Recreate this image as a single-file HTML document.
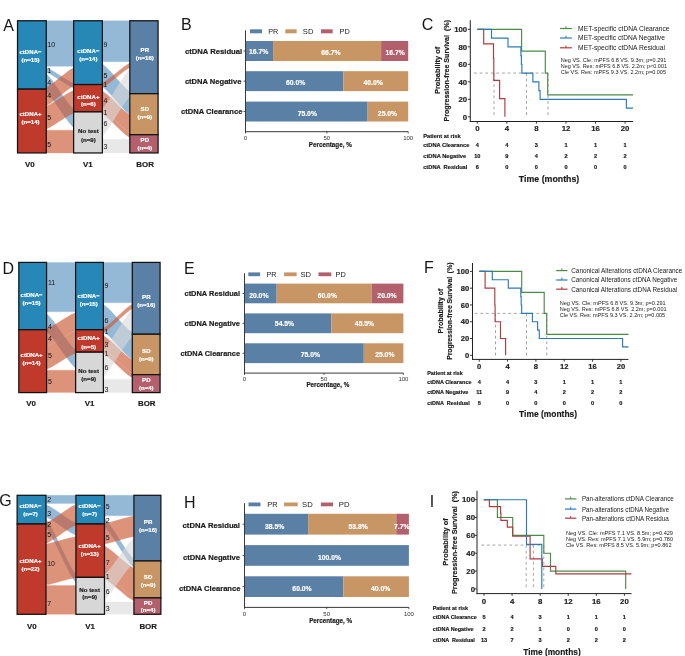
<!DOCTYPE html>
<html><head><meta charset="utf-8"><title>ctDNA figure</title>
<style>
html,body{margin:0;padding:0;background:#ffffff;}
body{width:685px;height:656px;overflow:hidden;}
svg{display:block;font-family:"Liberation Sans", sans-serif;will-change:transform;}
text{white-space:pre;}
</style></head>
<body>
<svg width="685" height="656" viewBox="0 0 685 656" font-family='"Liberation Sans", sans-serif' fill="#1a1a1a">
<rect x="0" y="0" width="685" height="656" fill="#ffffff"/>
<g opacity="0.65">
<path d="M41.25,20.75 C50.60,20.75 69.30,20.75 78.65,20.75 L78.65,66.34 C69.30,66.34 50.60,66.34 41.25,66.34 Z" fill="#5B94C2" stroke="#5B94C2" stroke-width="0.3"/>
<path d="M41.25,66.34 C50.60,66.34 69.30,84.57 78.65,84.57 L78.65,89.13 C69.30,89.13 50.60,70.89 41.25,70.89 Z" fill="#5B94C2" stroke="#5B94C2" stroke-width="0.3"/>
<path d="M41.25,70.89 C50.60,70.89 69.30,111.92 78.65,111.92 L78.65,130.16 C69.30,130.16 50.60,89.13 41.25,89.13 Z" fill="#5B94C2" stroke="#5B94C2" stroke-width="0.3"/>
</g>
<g opacity="0.66">
<path d="M41.25,89.13 C50.60,89.13 69.30,66.34 78.65,66.34 L78.65,84.57 C69.30,84.57 50.60,107.36 41.25,107.36 Z" fill="#CD5B37" stroke="#CD5B37" stroke-width="0.3"/>
<path d="M41.25,107.36 C50.60,107.36 69.30,89.13 78.65,89.13 L78.65,111.92 C69.30,111.92 50.60,130.16 41.25,130.16 Z" fill="#CD5B37" stroke="#CD5B37" stroke-width="0.3"/>
<path d="M41.25,130.16 C50.60,130.16 69.30,130.16 78.65,130.16 L78.65,152.95 C69.30,152.95 50.60,152.95 41.25,152.95 Z" fill="#CD5B37" stroke="#CD5B37" stroke-width="0.3"/>
</g>
<g opacity="0.65">
<path d="M97.33,20.75 C106.65,20.75 125.30,20.75 134.62,20.75 L134.62,61.78 C125.30,61.78 106.65,61.78 97.33,61.78 Z" fill="#5B94C2" stroke="#5B94C2" stroke-width="0.3"/>
<path d="M97.33,61.78 C106.65,61.78 125.30,93.69 134.62,93.69 L134.62,116.48 C125.30,116.48 106.65,84.57 97.33,84.57 Z" fill="#5B94C2" stroke="#5B94C2" stroke-width="0.3"/>
</g>
<g opacity="0.66">
<path d="M97.33,84.57 C106.65,84.57 125.30,61.78 134.62,61.78 L134.62,66.34 C125.30,66.34 106.65,89.13 97.33,89.13 Z" fill="#CD5B37" stroke="#CD5B37" stroke-width="0.3"/>
<path d="M97.33,89.13 C106.65,89.13 125.30,116.48 134.62,116.48 L134.62,134.72 C125.30,134.72 106.65,107.36 97.33,107.36 Z" fill="#CD5B37" stroke="#CD5B37" stroke-width="0.3"/>
<path d="M97.33,107.36 C106.65,107.36 125.30,134.72 134.62,134.72 L134.62,139.27 C125.30,139.27 106.65,111.92 97.33,111.92 Z" fill="#CD5B37" stroke="#CD5B37" stroke-width="0.3"/>
</g>
<g opacity="0.6">
<path d="M97.33,111.92 C106.65,111.92 125.30,66.34 134.62,66.34 L134.62,93.69 C125.30,93.69 106.65,139.27 97.33,139.27 Z" fill="#DADADA" stroke="#DADADA" stroke-width="0.3"/>
<path d="M97.33,139.27 C106.65,139.27 125.30,139.27 134.62,139.27 L134.62,152.95 C125.30,152.95 106.65,152.95 97.33,152.95 Z" fill="#DADADA" stroke="#DADADA" stroke-width="0.3"/>
</g>
<rect x="17.52" y="20.75" width="28.75" height="68.38" fill="#2787B6" stroke="#121212" stroke-width="1.25"/>
<rect x="17.52" y="89.13" width="28.75" height="63.82" fill="#C03A2B" stroke="#121212" stroke-width="1.25"/>
<rect x="73.62" y="20.75" width="28.75" height="63.82" fill="#2787B6" stroke="#121212" stroke-width="1.25"/>
<rect x="73.62" y="84.57" width="28.75" height="27.35" fill="#C03A2B" stroke="#121212" stroke-width="1.25"/>
<rect x="73.62" y="111.92" width="28.75" height="41.03" fill="#D7D7D7" stroke="#121212" stroke-width="1.25"/>
<rect x="129.82" y="20.75" width="28.25" height="72.94" fill="#5B80A5" stroke="#121212" stroke-width="1.25"/>
<rect x="129.82" y="93.69" width="28.25" height="41.03" fill="#C89664" stroke="#121212" stroke-width="1.25"/>
<rect x="129.82" y="134.72" width="28.25" height="18.23" fill="#B4606C" stroke="#121212" stroke-width="1.25"/>
<text x="30.50" y="53.68" font-size="6.1" font-weight="bold" text-anchor="middle" fill="#ffffff" stroke="#ffffff" stroke-width="0.18" >ctDNA−</text>
<text x="30.50" y="62.08" font-size="6.1" font-weight="bold" text-anchor="middle" fill="#ffffff" stroke="#ffffff" stroke-width="0.18" >(n=15)</text>
<text x="30.50" y="115.78" font-size="6.1" font-weight="bold" text-anchor="middle" fill="#ffffff" stroke="#ffffff" stroke-width="0.18" >ctDNA+</text>
<text x="30.50" y="123.98" font-size="6.1" font-weight="bold" text-anchor="middle" fill="#ffffff" stroke="#ffffff" stroke-width="0.18" >(n=14)</text>
<text x="88.40" y="53.08" font-size="6.1" font-weight="bold" text-anchor="middle" fill="#ffffff" stroke="#ffffff" stroke-width="0.18" >ctDNA−</text>
<text x="88.40" y="60.88" font-size="6.1" font-weight="bold" text-anchor="middle" fill="#ffffff" stroke="#ffffff" stroke-width="0.18" >(n=14)</text>
<text x="88.40" y="98.68" font-size="6.1" font-weight="bold" text-anchor="middle" fill="#ffffff" stroke="#ffffff" stroke-width="0.18" >ctDNA+</text>
<text x="88.40" y="106.38" font-size="6.1" font-weight="bold" text-anchor="middle" fill="#ffffff" stroke="#ffffff" stroke-width="0.18" >(n=6)</text>
<text x="88.40" y="133.28" font-size="6.1" font-weight="bold" text-anchor="middle" stroke="#1a1a1a" stroke-width="0.18" >No test</text>
<text x="88.40" y="141.58" font-size="6.1" font-weight="bold" text-anchor="middle" stroke="#1a1a1a" stroke-width="0.18" >(n=9)</text>
<text x="144.80" y="51.68" font-size="6.1" font-weight="bold" text-anchor="middle" fill="#ffffff" stroke="#ffffff" stroke-width="0.18" >PR</text>
<text x="144.80" y="60.18" font-size="6.1" font-weight="bold" text-anchor="middle" fill="#ffffff" stroke="#ffffff" stroke-width="0.18" >(n=16)</text>
<text x="144.80" y="110.98" font-size="6.1" font-weight="bold" text-anchor="middle" fill="#ffffff" stroke="#ffffff" stroke-width="0.18" >SD</text>
<text x="144.80" y="118.68" font-size="6.1" font-weight="bold" text-anchor="middle" fill="#ffffff" stroke="#ffffff" stroke-width="0.18" >(n=9)</text>
<text x="144.80" y="141.88" font-size="6.1" font-weight="bold" text-anchor="middle" fill="#ffffff" stroke="#ffffff" stroke-width="0.18" >PD</text>
<text x="144.80" y="149.68" font-size="6.1" font-weight="bold" text-anchor="middle" fill="#ffffff" stroke="#ffffff" stroke-width="0.18" >(n=4)</text>
<text x="47.30" y="46.55" font-size="7.0" fill="#111" >10</text>
<text x="47.30" y="73.15" font-size="7.0" fill="#111" >1</text>
<text x="47.30" y="85.05" font-size="7.0" fill="#111" >4</text>
<text x="47.30" y="98.35" font-size="7.0" fill="#111" >4</text>
<text x="47.30" y="120.35" font-size="7.0" fill="#111" >5</text>
<text x="47.30" y="147.15" font-size="7.0" fill="#111" >5</text>
<text x="103.60" y="46.55" font-size="7.0" fill="#111" >9</text>
<text x="103.60" y="77.65" font-size="7.0" fill="#111" >5</text>
<text x="103.60" y="86.85" font-size="7.0" fill="#111" >1</text>
<text x="103.60" y="103.25" font-size="7.0" fill="#111" >4</text>
<text x="103.60" y="115.15" font-size="7.0" fill="#111" >1</text>
<text x="103.60" y="125.65" font-size="7.0" fill="#111" >6</text>
<text x="103.60" y="149.05" font-size="7.0" fill="#111" >3</text>
<text x="29.90" y="166.83" font-size="7.9" font-weight="bold" text-anchor="middle" stroke="#1a1a1a" stroke-width="0.18" >V0</text>
<text x="87.90" y="166.83" font-size="7.9" font-weight="bold" text-anchor="middle" stroke="#1a1a1a" stroke-width="0.18" >V1</text>
<text x="145.10" y="166.83" font-size="7.9" font-weight="bold" text-anchor="middle" stroke="#1a1a1a" stroke-width="0.18" >BOR</text>
<text x="3.37" y="31.40" font-size="16" fill="#161616" >A</text>
<g opacity="0.65">
<path d="M42.17,262.40 C51.63,262.40 70.57,262.40 80.03,262.40 L80.03,311.79 C70.57,311.79 51.63,311.79 42.17,311.79 Z" fill="#5B94C2" stroke="#5B94C2" stroke-width="0.3"/>
<path d="M42.17,311.79 C51.63,311.79 70.57,352.19 80.03,352.19 L80.03,370.15 C70.57,370.15 51.63,329.74 42.17,329.74 Z" fill="#5B94C2" stroke="#5B94C2" stroke-width="0.3"/>
</g>
<g opacity="0.66">
<path d="M42.17,329.74 C51.63,329.74 70.57,311.79 80.03,311.79 L80.03,329.74 C70.57,329.74 51.63,347.70 42.17,347.70 Z" fill="#CD5B37" stroke="#CD5B37" stroke-width="0.3"/>
<path d="M42.17,347.70 C51.63,347.70 70.57,329.74 80.03,329.74 L80.03,352.19 C70.57,352.19 51.63,370.15 42.17,370.15 Z" fill="#CD5B37" stroke="#CD5B37" stroke-width="0.3"/>
<path d="M42.17,370.15 C51.63,370.15 70.57,370.15 80.03,370.15 L80.03,392.60 C70.57,392.60 51.63,392.60 42.17,392.60 Z" fill="#CD5B37" stroke="#CD5B37" stroke-width="0.3"/>
</g>
<g opacity="0.65">
<path d="M98.95,262.40 C108.40,262.40 127.30,262.40 136.75,262.40 L136.75,302.81 C127.30,302.81 108.40,302.81 98.95,302.81 Z" fill="#5B94C2" stroke="#5B94C2" stroke-width="0.3"/>
<path d="M98.95,302.81 C108.40,302.81 127.30,334.23 136.75,334.23 L136.75,361.17 C127.30,361.17 108.40,329.74 98.95,329.74 Z" fill="#5B94C2" stroke="#5B94C2" stroke-width="0.3"/>
</g>
<g opacity="0.66">
<path d="M98.95,329.74 C108.40,329.74 127.30,302.81 136.75,302.81 L136.75,307.30 C127.30,307.30 108.40,334.23 98.95,334.23 Z" fill="#CD5B37" stroke="#CD5B37" stroke-width="0.3"/>
<path d="M98.95,334.23 C108.40,334.23 127.30,361.17 136.75,361.17 L136.75,374.64 C127.30,374.64 108.40,347.70 98.95,347.70 Z" fill="#CD5B37" stroke="#CD5B37" stroke-width="0.3"/>
<path d="M98.95,347.70 C108.40,347.70 127.30,374.64 136.75,374.64 L136.75,379.13 C127.30,379.13 108.40,352.19 98.95,352.19 Z" fill="#CD5B37" stroke="#CD5B37" stroke-width="0.3"/>
</g>
<g opacity="0.6">
<path d="M98.95,352.19 C108.40,352.19 127.30,307.30 136.75,307.30 L136.75,334.23 C127.30,334.23 108.40,379.13 98.95,379.13 Z" fill="#DADADA" stroke="#DADADA" stroke-width="0.3"/>
<path d="M98.95,379.13 C108.40,379.13 127.30,379.13 136.75,379.13 L136.75,392.60 C127.30,392.60 108.40,392.60 98.95,392.60 Z" fill="#DADADA" stroke="#DADADA" stroke-width="0.3"/>
</g>
<rect x="18.82" y="262.40" width="27.75" height="67.34" fill="#2787B6" stroke="#121212" stroke-width="1.25"/>
<rect x="18.82" y="329.74" width="27.75" height="62.86" fill="#C03A2B" stroke="#121212" stroke-width="1.25"/>
<rect x="75.62" y="262.40" width="27.75" height="67.34" fill="#2787B6" stroke="#121212" stroke-width="1.25"/>
<rect x="75.62" y="329.74" width="27.75" height="22.45" fill="#C03A2B" stroke="#121212" stroke-width="1.25"/>
<rect x="75.62" y="352.19" width="27.75" height="40.41" fill="#D7D7D7" stroke="#121212" stroke-width="1.25"/>
<rect x="132.32" y="262.40" width="27.75" height="71.83" fill="#5B80A5" stroke="#121212" stroke-width="1.25"/>
<rect x="132.32" y="334.23" width="27.75" height="40.41" fill="#C89664" stroke="#121212" stroke-width="1.25"/>
<rect x="132.32" y="374.64" width="27.75" height="17.96" fill="#B4606C" stroke="#121212" stroke-width="1.25"/>
<text x="31.60" y="296.88" font-size="6.1" font-weight="bold" text-anchor="middle" fill="#ffffff" stroke="#ffffff" stroke-width="0.18" >ctDNA−</text>
<text x="31.60" y="305.08" font-size="6.1" font-weight="bold" text-anchor="middle" fill="#ffffff" stroke="#ffffff" stroke-width="0.18" >(n=15)</text>
<text x="31.60" y="356.98" font-size="6.1" font-weight="bold" text-anchor="middle" fill="#ffffff" stroke="#ffffff" stroke-width="0.18" >ctDNA+</text>
<text x="31.60" y="364.88" font-size="6.1" font-weight="bold" text-anchor="middle" fill="#ffffff" stroke="#ffffff" stroke-width="0.18" >(n=14)</text>
<text x="88.70" y="297.78" font-size="6.1" font-weight="bold" text-anchor="middle" fill="#ffffff" stroke="#ffffff" stroke-width="0.18" >ctDNA−</text>
<text x="88.70" y="305.98" font-size="6.1" font-weight="bold" text-anchor="middle" fill="#ffffff" stroke="#ffffff" stroke-width="0.18" >(n=15)</text>
<text x="88.70" y="340.48" font-size="6.1" font-weight="bold" text-anchor="middle" fill="#ffffff" stroke="#ffffff" stroke-width="0.18" >ctDNA+</text>
<text x="88.70" y="348.68" font-size="6.1" font-weight="bold" text-anchor="middle" fill="#ffffff" stroke="#ffffff" stroke-width="0.18" >(n=5)</text>
<text x="88.70" y="373.08" font-size="6.1" font-weight="bold" text-anchor="middle" stroke="#1a1a1a" stroke-width="0.18" >No test</text>
<text x="88.70" y="381.28" font-size="6.1" font-weight="bold" text-anchor="middle" stroke="#1a1a1a" stroke-width="0.18" >(n=9)</text>
<text x="146.30" y="298.98" font-size="6.1" font-weight="bold" text-anchor="middle" fill="#ffffff" stroke="#ffffff" stroke-width="0.18" >PR</text>
<text x="146.30" y="306.98" font-size="6.1" font-weight="bold" text-anchor="middle" fill="#ffffff" stroke="#ffffff" stroke-width="0.18" >(n=16)</text>
<text x="146.30" y="352.68" font-size="6.1" font-weight="bold" text-anchor="middle" fill="#ffffff" stroke="#ffffff" stroke-width="0.18" >SD</text>
<text x="146.30" y="360.88" font-size="6.1" font-weight="bold" text-anchor="middle" fill="#ffffff" stroke="#ffffff" stroke-width="0.18" >(n=9)</text>
<text x="146.30" y="382.18" font-size="6.1" font-weight="bold" text-anchor="middle" fill="#ffffff" stroke="#ffffff" stroke-width="0.18" >PD</text>
<text x="146.30" y="389.88" font-size="6.1" font-weight="bold" text-anchor="middle" fill="#ffffff" stroke="#ffffff" stroke-width="0.18" >(n=4)</text>
<text x="48.00" y="285.45" font-size="7.0" fill="#111" >11</text>
<text x="48.00" y="328.65" font-size="7.0" fill="#111" >4</text>
<text x="48.00" y="341.05" font-size="7.0" fill="#111" >4</text>
<text x="48.00" y="357.85" font-size="7.0" fill="#111" >5</text>
<text x="48.00" y="383.95" font-size="7.0" fill="#111" >5</text>
<text x="104.60" y="287.65" font-size="7.0" fill="#111" >9</text>
<text x="104.60" y="322.95" font-size="7.0" fill="#111" >6</text>
<text x="104.60" y="334.35" font-size="7.0" fill="#111" >1</text>
<text x="104.60" y="347.15" font-size="7.0" fill="#111" >3</text>
<text x="104.60" y="356.25" font-size="7.0" fill="#111" >1</text>
<text x="104.60" y="369.65" font-size="7.0" fill="#111" >6</text>
<text x="104.60" y="391.55" font-size="7.0" fill="#111" >3</text>
<text x="31.20" y="405.73" font-size="7.9" font-weight="bold" text-anchor="middle" stroke="#1a1a1a" stroke-width="0.18" >V0</text>
<text x="89.50" y="405.73" font-size="7.9" font-weight="bold" text-anchor="middle" stroke="#1a1a1a" stroke-width="0.18" >V1</text>
<text x="146.80" y="405.73" font-size="7.9" font-weight="bold" text-anchor="middle" stroke="#1a1a1a" stroke-width="0.18" >BOR</text>
<text x="2.60" y="274.10" font-size="16" fill="#161616" >D</text>
<g opacity="0.65">
<path d="M41.33,495.30 C51.10,495.30 70.65,495.30 80.42,495.30 L80.42,503.51 C70.65,503.51 51.10,503.51 41.33,503.51 Z" fill="#5B94C2" stroke="#5B94C2" stroke-width="0.3"/>
<path d="M41.33,503.51 C51.10,503.51 70.65,524.02 80.42,524.02 L80.42,536.33 C70.65,536.33 51.10,515.82 41.33,515.82 Z" fill="#5B94C2" stroke="#5B94C2" stroke-width="0.3"/>
<path d="M41.33,515.82 C51.10,515.82 70.65,577.37 80.42,577.37 L80.42,585.58 C70.65,585.58 51.10,524.02 41.33,524.02 Z" fill="#5B94C2" stroke="#5B94C2" stroke-width="0.3"/>
</g>
<g opacity="0.66">
<path d="M41.33,524.02 C51.10,524.02 70.65,503.51 80.42,503.51 L80.42,524.02 C70.65,524.02 51.10,544.54 41.33,544.54 Z" fill="#CD5B37" stroke="#CD5B37" stroke-width="0.3"/>
<path d="M41.33,544.54 C51.10,544.54 70.65,536.33 80.42,536.33 L80.42,577.37 C70.65,577.37 51.10,585.58 41.33,585.58 Z" fill="#CD5B37" stroke="#CD5B37" stroke-width="0.3"/>
<path d="M41.33,585.58 C51.10,585.58 70.65,585.58 80.42,585.58 L80.42,614.30 C70.65,614.30 51.10,614.30 41.33,614.30 Z" fill="#CD5B37" stroke="#CD5B37" stroke-width="0.3"/>
</g>
<g opacity="0.65">
<path d="M99.73,495.30 C109.27,495.30 128.33,495.30 137.87,495.30 L137.87,515.82 C128.33,515.82 109.27,515.82 99.73,515.82 Z" fill="#5B94C2" stroke="#5B94C2" stroke-width="0.3"/>
<path d="M99.73,515.82 C109.27,515.82 128.33,560.96 137.87,560.96 L137.87,569.16 C128.33,569.16 109.27,524.02 99.73,524.02 Z" fill="#5B94C2" stroke="#5B94C2" stroke-width="0.3"/>
</g>
<g opacity="0.66">
<path d="M99.73,524.02 C109.27,524.02 128.33,515.82 137.87,515.82 L137.87,536.33 C128.33,536.33 109.27,544.54 99.73,544.54 Z" fill="#CD5B37" stroke="#CD5B37" stroke-width="0.3"/>
<path d="M99.73,544.54 C109.27,544.54 128.33,569.16 137.87,569.16 L137.87,597.89 C128.33,597.89 109.27,573.27 99.73,573.27 Z" fill="#CD5B37" stroke="#CD5B37" stroke-width="0.3"/>
<path d="M99.73,573.27 C109.27,573.27 128.33,597.89 137.87,597.89 L137.87,601.99 C128.33,601.99 109.27,577.37 99.73,577.37 Z" fill="#CD5B37" stroke="#CD5B37" stroke-width="0.3"/>
</g>
<g opacity="0.6">
<path d="M99.73,577.37 C109.27,577.37 128.33,536.33 137.87,536.33 L137.87,560.96 C128.33,560.96 109.27,601.99 99.73,601.99 Z" fill="#DADADA" stroke="#DADADA" stroke-width="0.3"/>
<path d="M99.73,601.99 C109.27,601.99 128.33,601.99 137.87,601.99 L137.87,614.30 C128.33,614.30 109.27,614.30 99.73,614.30 Z" fill="#DADADA" stroke="#DADADA" stroke-width="0.3"/>
</g>
<rect x="17.12" y="495.30" width="28.85" height="28.72" fill="#2787B6" stroke="#121212" stroke-width="1.25"/>
<rect x="17.12" y="524.02" width="28.85" height="90.28" fill="#C03A2B" stroke="#121212" stroke-width="1.25"/>
<rect x="75.92" y="495.30" width="28.55" height="28.72" fill="#2787B6" stroke="#121212" stroke-width="1.25"/>
<rect x="75.92" y="524.02" width="28.55" height="53.34" fill="#C03A2B" stroke="#121212" stroke-width="1.25"/>
<rect x="75.92" y="577.37" width="28.55" height="36.93" fill="#D7D7D7" stroke="#121212" stroke-width="1.25"/>
<rect x="133.93" y="495.30" width="26.95" height="65.66" fill="#5B80A5" stroke="#121212" stroke-width="1.25"/>
<rect x="133.93" y="560.96" width="26.95" height="36.93" fill="#C89664" stroke="#121212" stroke-width="1.25"/>
<rect x="133.93" y="597.89" width="26.95" height="16.41" fill="#B4606C" stroke="#121212" stroke-width="1.25"/>
<text x="30.50" y="508.48" font-size="6.1" font-weight="bold" text-anchor="middle" fill="#ffffff" stroke="#ffffff" stroke-width="0.18" >ctDNA−</text>
<text x="30.50" y="516.18" font-size="6.1" font-weight="bold" text-anchor="middle" fill="#ffffff" stroke="#ffffff" stroke-width="0.18" >(n=7)</text>
<text x="30.50" y="563.48" font-size="6.1" font-weight="bold" text-anchor="middle" fill="#ffffff" stroke="#ffffff" stroke-width="0.18" >ctDNA+</text>
<text x="30.50" y="570.88" font-size="6.1" font-weight="bold" text-anchor="middle" fill="#ffffff" stroke="#ffffff" stroke-width="0.18" >(n=22)</text>
<text x="89.70" y="508.48" font-size="6.1" font-weight="bold" text-anchor="middle" fill="#ffffff" stroke="#ffffff" stroke-width="0.18" >ctDNA−</text>
<text x="89.70" y="516.18" font-size="6.1" font-weight="bold" text-anchor="middle" fill="#ffffff" stroke="#ffffff" stroke-width="0.18" >(n=7)</text>
<text x="89.70" y="548.18" font-size="6.1" font-weight="bold" text-anchor="middle" fill="#ffffff" stroke="#ffffff" stroke-width="0.18" >ctDNA+</text>
<text x="89.70" y="555.88" font-size="6.1" font-weight="bold" text-anchor="middle" fill="#ffffff" stroke="#ffffff" stroke-width="0.18" >(n=13)</text>
<text x="89.70" y="591.88" font-size="6.1" font-weight="bold" text-anchor="middle" stroke="#1a1a1a" stroke-width="0.18" >No test</text>
<text x="89.70" y="598.98" font-size="6.1" font-weight="bold" text-anchor="middle" stroke="#1a1a1a" stroke-width="0.18" >(n=9)</text>
<text x="148.10" y="524.08" font-size="6.1" font-weight="bold" text-anchor="middle" fill="#ffffff" stroke="#ffffff" stroke-width="0.18" >PR</text>
<text x="148.10" y="531.78" font-size="6.1" font-weight="bold" text-anchor="middle" fill="#ffffff" stroke="#ffffff" stroke-width="0.18" >(n=16)</text>
<text x="148.10" y="579.38" font-size="6.1" font-weight="bold" text-anchor="middle" fill="#ffffff" stroke="#ffffff" stroke-width="0.18" >SD</text>
<text x="148.10" y="587.08" font-size="6.1" font-weight="bold" text-anchor="middle" fill="#ffffff" stroke="#ffffff" stroke-width="0.18" >(n=9)</text>
<text x="148.10" y="604.58" font-size="6.1" font-weight="bold" text-anchor="middle" fill="#ffffff" stroke="#ffffff" stroke-width="0.18" >PD</text>
<text x="148.10" y="611.98" font-size="6.1" font-weight="bold" text-anchor="middle" fill="#ffffff" stroke="#ffffff" stroke-width="0.18" >(n=4)</text>
<text x="47.20" y="502.35" font-size="7.0" fill="#111" >2</text>
<text x="47.20" y="516.05" font-size="7.0" fill="#111" >3</text>
<text x="47.20" y="526.65" font-size="7.0" fill="#111" >2</text>
<text x="47.20" y="537.35" font-size="7.0" fill="#111" >5</text>
<text x="47.20" y="566.15" font-size="7.0" fill="#111" >10</text>
<text x="47.20" y="605.65" font-size="7.0" fill="#111" >7</text>
<text x="105.80" y="508.85" font-size="7.0" fill="#111" >5</text>
<text x="105.80" y="523.15" font-size="7.0" fill="#111" >2</text>
<text x="105.80" y="539.75" font-size="7.0" fill="#111" >5</text>
<text x="105.80" y="564.55" font-size="7.0" fill="#111" >7</text>
<text x="105.80" y="579.05" font-size="7.0" fill="#111" >1</text>
<text x="105.80" y="593.65" font-size="7.0" fill="#111" >6</text>
<text x="105.80" y="610.85" font-size="7.0" fill="#111" >3</text>
<text x="31.90" y="628.83" font-size="7.9" font-weight="bold" text-anchor="middle" stroke="#1a1a1a" stroke-width="0.18" >V0</text>
<text x="90.00" y="628.83" font-size="7.9" font-weight="bold" text-anchor="middle" stroke="#1a1a1a" stroke-width="0.18" >V1</text>
<text x="148.20" y="628.83" font-size="7.9" font-weight="bold" text-anchor="middle" stroke="#1a1a1a" stroke-width="0.18" >BOR</text>
<text x="-0.68" y="506.30" font-size="16" fill="#161616" >G</text>
<rect x="246.00" y="41.00" width="27.09" height="20.00" fill="#5B80A5"/>
<rect x="273.09" y="41.00" width="108.03" height="20.00" fill="#C89664"/>
<rect x="381.11" y="41.00" width="27.09" height="20.00" fill="#B4606C"/>
<rect x="246.00" y="71.20" width="97.32" height="19.90" fill="#5B80A5"/>
<rect x="343.32" y="71.20" width="64.88" height="19.90" fill="#C89664"/>
<rect x="246.00" y="101.60" width="121.65" height="19.90" fill="#5B80A5"/>
<rect x="367.65" y="101.60" width="40.55" height="19.90" fill="#C89664"/>
<text x="258.70" y="54.03" font-size="6.8" font-weight="bold" text-anchor="middle" fill="#ffffff" stroke="#ffffff" stroke-width="0.18" >16.7%</text>
<text x="330.90" y="54.63" font-size="6.8" font-weight="bold" text-anchor="middle" fill="#ffffff" stroke="#ffffff" stroke-width="0.18" >66.7%</text>
<text x="395.20" y="54.63" font-size="6.8" font-weight="bold" text-anchor="middle" fill="#ffffff" stroke="#ffffff" stroke-width="0.18" >16.7%</text>
<text x="295.60" y="84.73" font-size="6.8" font-weight="bold" text-anchor="middle" fill="#ffffff" stroke="#ffffff" stroke-width="0.18" >60.0%</text>
<text x="373.20" y="84.73" font-size="6.8" font-weight="bold" text-anchor="middle" fill="#ffffff" stroke="#ffffff" stroke-width="0.18" >40.0%</text>
<text x="307.30" y="115.63" font-size="6.8" font-weight="bold" text-anchor="middle" fill="#ffffff" stroke="#ffffff" stroke-width="0.18" >75.0%</text>
<text x="387.50" y="115.63" font-size="6.8" font-weight="bold" text-anchor="middle" fill="#ffffff" stroke="#ffffff" stroke-width="0.18" >25.0%</text>
<line x1="245.50" y1="30.40" x2="245.50" y2="132.20" stroke="#2e2e2e" stroke-width="0.95"/>
<line x1="245.00" y1="131.70" x2="408.20" y2="131.70" stroke="#2e2e2e" stroke-width="0.95"/>
<line x1="245.50" y1="131.70" x2="245.50" y2="133.50" stroke="#2e2e2e" stroke-width="0.8"/>
<text x="245.50" y="139.80" font-size="6.0" text-anchor="middle" fill="#333" >0</text>
<line x1="326.85" y1="131.70" x2="326.85" y2="133.50" stroke="#2e2e2e" stroke-width="0.8"/>
<text x="326.85" y="139.80" font-size="6.0" text-anchor="middle" fill="#333" >50</text>
<line x1="408.20" y1="131.70" x2="408.20" y2="133.50" stroke="#2e2e2e" stroke-width="0.8"/>
<text x="408.20" y="139.80" font-size="6.0" text-anchor="middle" fill="#333" >100</text>
<line x1="243.50" y1="51.00" x2="245.50" y2="51.00" stroke="#2e2e2e" stroke-width="0.8"/>
<line x1="243.50" y1="81.15" x2="245.50" y2="81.15" stroke="#2e2e2e" stroke-width="0.8"/>
<line x1="243.50" y1="111.55" x2="245.50" y2="111.55" stroke="#2e2e2e" stroke-width="0.8"/>
<text x="330.30" y="146.89" font-size="6.4" font-weight="bold" text-anchor="middle" textLength="42.90" lengthAdjust="spacingAndGlyphs" stroke="#1a1a1a" stroke-width="0.18" >Percentage, %</text>
<text x="242.20" y="54.48" font-size="7.2" font-weight="bold" text-anchor="end" textLength="57.30" lengthAdjust="spacingAndGlyphs" stroke="#1a1a1a" stroke-width="0.18" >ctDNA Residual</text>
<text x="241.40" y="84.08" font-size="7.2" font-weight="bold" text-anchor="end" textLength="56.50" lengthAdjust="spacingAndGlyphs" stroke="#1a1a1a" stroke-width="0.18" >ctDNA Negative</text>
<text x="242.40" y="113.68" font-size="7.2" font-weight="bold" text-anchor="end" textLength="61.30" lengthAdjust="spacingAndGlyphs" stroke="#1a1a1a" stroke-width="0.18" >ctDNA Clearance</text>
<rect x="250.00" y="29.30" width="12.00" height="4.00" fill="#5B80A5"/>
<text x="268.20" y="34.18" font-size="7.2" textLength="10.00" lengthAdjust="spacingAndGlyphs" >PR</text>
<rect x="285.30" y="29.30" width="11.30" height="4.00" fill="#C89664"/>
<text x="302.80" y="34.18" font-size="7.2" textLength="10.60" lengthAdjust="spacingAndGlyphs" >SD</text>
<rect x="321.00" y="29.30" width="11.70" height="4.00" fill="#B4606C"/>
<text x="339.50" y="34.18" font-size="7.2" textLength="10.20" lengthAdjust="spacingAndGlyphs" >PD</text>
<text x="181.00" y="30.45" font-size="16" fill="#161616" >B</text>
<rect x="245.00" y="283.60" width="31.68" height="19.70" fill="#5B80A5"/>
<rect x="276.68" y="283.60" width="95.04" height="19.70" fill="#C89664"/>
<rect x="371.72" y="283.60" width="31.68" height="19.70" fill="#B4606C"/>
<rect x="245.00" y="313.40" width="86.33" height="19.80" fill="#5B80A5"/>
<rect x="331.33" y="313.40" width="72.07" height="19.80" fill="#C89664"/>
<rect x="245.00" y="343.30" width="118.80" height="19.80" fill="#5B80A5"/>
<rect x="363.80" y="343.30" width="39.60" height="19.80" fill="#C89664"/>
<text x="258.80" y="297.53" font-size="6.8" font-weight="bold" text-anchor="middle" fill="#ffffff" stroke="#ffffff" stroke-width="0.18" >20.0%</text>
<text x="327.30" y="297.53" font-size="6.8" font-weight="bold" text-anchor="middle" fill="#ffffff" stroke="#ffffff" stroke-width="0.18" >60.0%</text>
<text x="387.00" y="297.53" font-size="6.8" font-weight="bold" text-anchor="middle" fill="#ffffff" stroke="#ffffff" stroke-width="0.18" >20.0%</text>
<text x="284.50" y="326.23" font-size="6.8" font-weight="bold" text-anchor="middle" fill="#ffffff" stroke="#ffffff" stroke-width="0.18" >54.5%</text>
<text x="364.50" y="326.23" font-size="6.8" font-weight="bold" text-anchor="middle" fill="#ffffff" stroke="#ffffff" stroke-width="0.18" >45.5%</text>
<text x="310.40" y="357.13" font-size="6.8" font-weight="bold" text-anchor="middle" fill="#ffffff" stroke="#ffffff" stroke-width="0.18" >75.0%</text>
<text x="384.80" y="357.13" font-size="6.8" font-weight="bold" text-anchor="middle" fill="#ffffff" stroke="#ffffff" stroke-width="0.18" >25.0%</text>
<line x1="244.50" y1="273.20" x2="244.50" y2="373.60" stroke="#2e2e2e" stroke-width="0.95"/>
<line x1="244.00" y1="373.10" x2="403.40" y2="373.10" stroke="#2e2e2e" stroke-width="0.95"/>
<line x1="244.50" y1="373.10" x2="244.50" y2="374.90" stroke="#2e2e2e" stroke-width="0.8"/>
<text x="244.50" y="381.35" font-size="6.0" text-anchor="middle" fill="#333" >0</text>
<line x1="323.95" y1="373.10" x2="323.95" y2="374.90" stroke="#2e2e2e" stroke-width="0.8"/>
<text x="323.95" y="381.35" font-size="6.0" text-anchor="middle" fill="#333" >50</text>
<line x1="403.40" y1="373.10" x2="403.40" y2="374.90" stroke="#2e2e2e" stroke-width="0.8"/>
<text x="403.40" y="381.35" font-size="6.0" text-anchor="middle" fill="#333" >100</text>
<line x1="242.50" y1="293.45" x2="244.50" y2="293.45" stroke="#2e2e2e" stroke-width="0.8"/>
<line x1="242.50" y1="323.30" x2="244.50" y2="323.30" stroke="#2e2e2e" stroke-width="0.8"/>
<line x1="242.50" y1="353.20" x2="244.50" y2="353.20" stroke="#2e2e2e" stroke-width="0.8"/>
<text x="327.90" y="387.39" font-size="6.4" font-weight="bold" text-anchor="middle" textLength="42.90" lengthAdjust="spacingAndGlyphs" stroke="#1a1a1a" stroke-width="0.18" >Percentage, %</text>
<text x="240.00" y="295.98" font-size="7.2" font-weight="bold" text-anchor="end" textLength="55.50" lengthAdjust="spacingAndGlyphs" stroke="#1a1a1a" stroke-width="0.18" >ctDNA Residual</text>
<text x="240.00" y="326.48" font-size="7.2" font-weight="bold" text-anchor="end" textLength="55.50" lengthAdjust="spacingAndGlyphs" stroke="#1a1a1a" stroke-width="0.18" >ctDNA Negative</text>
<text x="240.00" y="356.18" font-size="7.2" font-weight="bold" text-anchor="end" textLength="59.50" lengthAdjust="spacingAndGlyphs" stroke="#1a1a1a" stroke-width="0.18" >ctDNA Clearance</text>
<rect x="248.30" y="272.40" width="11.80" height="3.80" fill="#5B80A5"/>
<text x="266.40" y="276.88" font-size="7.2" textLength="10.00" lengthAdjust="spacingAndGlyphs" >PR</text>
<rect x="284.10" y="272.40" width="12.50" height="3.80" fill="#C89664"/>
<text x="300.40" y="276.88" font-size="7.2" textLength="10.60" lengthAdjust="spacingAndGlyphs" >SD</text>
<rect x="318.50" y="272.40" width="12.80" height="3.80" fill="#B4606C"/>
<text x="335.50" y="276.88" font-size="7.2" textLength="10.20" lengthAdjust="spacingAndGlyphs" >PD</text>
<text x="184.00" y="273.60" font-size="16" fill="#161616" >E</text>
<rect x="245.00" y="513.80" width="63.10" height="20.80" fill="#5B80A5"/>
<rect x="308.10" y="513.80" width="88.18" height="20.80" fill="#C89664"/>
<rect x="396.28" y="513.80" width="12.62" height="20.80" fill="#B4606C"/>
<rect x="245.00" y="545.10" width="163.90" height="20.70" fill="#5B80A5"/>
<rect x="245.00" y="576.30" width="98.34" height="20.70" fill="#5B80A5"/>
<rect x="343.34" y="576.30" width="65.56" height="20.70" fill="#C89664"/>
<text x="274.70" y="528.63" font-size="6.8" font-weight="bold" text-anchor="middle" fill="#ffffff" stroke="#ffffff" stroke-width="0.18" >38.5%</text>
<text x="358.10" y="528.63" font-size="6.8" font-weight="bold" text-anchor="middle" fill="#ffffff" stroke="#ffffff" stroke-width="0.18" >53.8%</text>
<text x="401.80" y="528.63" font-size="6.8" font-weight="bold" text-anchor="middle" fill="#ffffff" stroke="#ffffff" stroke-width="0.18" >7.7%</text>
<text x="329.50" y="559.53" font-size="6.8" font-weight="bold" text-anchor="middle" fill="#ffffff" stroke="#ffffff" stroke-width="0.18" >100.0%</text>
<text x="302.00" y="590.93" font-size="6.8" font-weight="bold" text-anchor="middle" fill="#ffffff" stroke="#ffffff" stroke-width="0.18" >60.0%</text>
<text x="380.70" y="590.93" font-size="6.8" font-weight="bold" text-anchor="middle" fill="#ffffff" stroke="#ffffff" stroke-width="0.18" >40.0%</text>
<line x1="244.50" y1="503.20" x2="244.50" y2="607.90" stroke="#2e2e2e" stroke-width="0.95"/>
<line x1="244.00" y1="607.40" x2="408.90" y2="607.40" stroke="#2e2e2e" stroke-width="0.95"/>
<line x1="244.50" y1="607.40" x2="244.50" y2="609.20" stroke="#2e2e2e" stroke-width="0.8"/>
<text x="244.50" y="615.70" font-size="6.0" text-anchor="middle" fill="#333" >0</text>
<line x1="326.70" y1="607.40" x2="326.70" y2="609.20" stroke="#2e2e2e" stroke-width="0.8"/>
<text x="326.70" y="615.70" font-size="6.0" text-anchor="middle" fill="#333" >50</text>
<line x1="408.90" y1="607.40" x2="408.90" y2="609.20" stroke="#2e2e2e" stroke-width="0.8"/>
<text x="408.90" y="615.70" font-size="6.0" text-anchor="middle" fill="#333" >100</text>
<line x1="242.50" y1="524.20" x2="244.50" y2="524.20" stroke="#2e2e2e" stroke-width="0.8"/>
<line x1="242.50" y1="555.45" x2="244.50" y2="555.45" stroke="#2e2e2e" stroke-width="0.8"/>
<line x1="242.50" y1="586.65" x2="244.50" y2="586.65" stroke="#2e2e2e" stroke-width="0.8"/>
<text x="330.60" y="623.19" font-size="6.4" font-weight="bold" text-anchor="middle" textLength="42.90" lengthAdjust="spacingAndGlyphs" stroke="#1a1a1a" stroke-width="0.18" >Percentage, %</text>
<text x="240.00" y="528.18" font-size="7.2" font-weight="bold" text-anchor="end" textLength="57.40" lengthAdjust="spacingAndGlyphs" stroke="#1a1a1a" stroke-width="0.18" >ctDNA Residual</text>
<text x="240.00" y="559.58" font-size="7.2" font-weight="bold" text-anchor="end" textLength="57.00" lengthAdjust="spacingAndGlyphs" stroke="#1a1a1a" stroke-width="0.18" >ctDNA Negative</text>
<text x="240.50" y="590.88" font-size="7.2" font-weight="bold" text-anchor="end" textLength="61.50" lengthAdjust="spacingAndGlyphs" stroke="#1a1a1a" stroke-width="0.18" >ctDNA Clearance</text>
<rect x="248.50" y="502.50" width="12.00" height="3.80" fill="#5B80A5"/>
<text x="267.30" y="506.98" font-size="7.2" textLength="10.30" lengthAdjust="spacingAndGlyphs" >PR</text>
<rect x="284.10" y="502.50" width="13.60" height="3.80" fill="#C89664"/>
<text x="302.00" y="506.98" font-size="7.2" textLength="10.70" lengthAdjust="spacingAndGlyphs" >SD</text>
<rect x="320.90" y="502.50" width="12.20" height="3.80" fill="#B4606C"/>
<text x="338.80" y="506.98" font-size="7.2" textLength="10.80" lengthAdjust="spacingAndGlyphs" >PD</text>
<text x="184.00" y="507.50" font-size="16" fill="#161616" >H</text>
<line x1="474.00" y1="73.05" x2="547.70" y2="73.05" stroke="#9a9a9a" stroke-width="0.9" stroke-dasharray="2.8,2.8"/>
<line x1="494.00" y1="73.05" x2="494.00" y2="117.30" stroke="#9a9a9a" stroke-width="0.9" stroke-dasharray="2.8,2.8"/>
<line x1="526.50" y1="73.05" x2="526.50" y2="117.30" stroke="#9a9a9a" stroke-width="0.9" stroke-dasharray="2.8,2.8"/>
<line x1="548.00" y1="73.05" x2="548.00" y2="117.30" stroke="#9a9a9a" stroke-width="0.9" stroke-dasharray="2.8,2.8"/>
<path d="M477.50,29.30 H521.60 V51.17 H545.30 V73.05 H547.70 V94.92 H633.10" fill="none" stroke="#4B8B47" stroke-width="1.15" stroke-linejoin="miter"/>
<path d="M477.50,29.30 H483.70 V43.91 H493.50 V58.44 H493.80 V80.31 H499.60 V98.60 H504.90 V116.80 H504.90" fill="none" stroke="#AE3B3D" stroke-width="1.15" stroke-linejoin="miter"/>
<path d="M477.30,29.30 H491.50 V38.05 H508.00 V46.80 H520.90 V55.55 H521.40 V64.30 H521.90 V73.05 H532.90 V81.80 H538.90 V90.55 H540.10 V99.30 H626.40 V108.05 H633.10" fill="none" stroke="#2B7BB6" stroke-width="1.15" stroke-linejoin="miter"/>
<line x1="470.30" y1="20.20" x2="470.30" y2="122.00" stroke="#222" stroke-width="1.0"/>
<line x1="469.80" y1="121.50" x2="633.10" y2="121.50" stroke="#222" stroke-width="1.0"/>
<line x1="467.80" y1="116.80" x2="470.30" y2="116.80" stroke="#222" stroke-width="0.9"/>
<text x="467.20" y="119.53" font-size="7.8" font-weight="bold" text-anchor="end" fill="#222" stroke="#222" stroke-width="0.18" >0</text>
<line x1="467.80" y1="99.30" x2="470.30" y2="99.30" stroke="#222" stroke-width="0.9"/>
<text x="467.20" y="102.03" font-size="7.8" font-weight="bold" text-anchor="end" fill="#222" stroke="#222" stroke-width="0.18" >20</text>
<line x1="467.80" y1="81.80" x2="470.30" y2="81.80" stroke="#222" stroke-width="0.9"/>
<text x="467.20" y="84.53" font-size="7.8" font-weight="bold" text-anchor="end" fill="#222" stroke="#222" stroke-width="0.18" >40</text>
<line x1="467.80" y1="64.30" x2="470.30" y2="64.30" stroke="#222" stroke-width="0.9"/>
<text x="467.20" y="67.03" font-size="7.8" font-weight="bold" text-anchor="end" fill="#222" stroke="#222" stroke-width="0.18" >60</text>
<line x1="467.80" y1="46.80" x2="470.30" y2="46.80" stroke="#222" stroke-width="0.9"/>
<text x="467.20" y="49.53" font-size="7.8" font-weight="bold" text-anchor="end" fill="#222" stroke="#222" stroke-width="0.18" >80</text>
<line x1="467.80" y1="29.30" x2="470.30" y2="29.30" stroke="#222" stroke-width="0.9"/>
<text x="467.20" y="32.03" font-size="7.8" font-weight="bold" text-anchor="end" fill="#222" stroke="#222" stroke-width="0.18" >100</text>
<line x1="477.30" y1="121.50" x2="477.30" y2="123.70" stroke="#222" stroke-width="0.9"/>
<text x="477.30" y="131.23" font-size="7.8" font-weight="bold" text-anchor="middle" fill="#222" stroke="#222" stroke-width="0.18" >0</text>
<line x1="506.86" y1="121.50" x2="506.86" y2="123.70" stroke="#222" stroke-width="0.9"/>
<text x="506.86" y="131.23" font-size="7.8" font-weight="bold" text-anchor="middle" fill="#222" stroke="#222" stroke-width="0.18" >4</text>
<line x1="536.42" y1="121.50" x2="536.42" y2="123.70" stroke="#222" stroke-width="0.9"/>
<text x="536.42" y="131.23" font-size="7.8" font-weight="bold" text-anchor="middle" fill="#222" stroke="#222" stroke-width="0.18" >8</text>
<line x1="565.98" y1="121.50" x2="565.98" y2="123.70" stroke="#222" stroke-width="0.9"/>
<text x="565.98" y="131.23" font-size="7.8" font-weight="bold" text-anchor="middle" fill="#222" stroke="#222" stroke-width="0.18" >12</text>
<line x1="595.54" y1="121.50" x2="595.54" y2="123.70" stroke="#222" stroke-width="0.9"/>
<text x="595.54" y="131.23" font-size="7.8" font-weight="bold" text-anchor="middle" fill="#222" stroke="#222" stroke-width="0.18" >16</text>
<line x1="625.10" y1="121.50" x2="625.10" y2="123.70" stroke="#222" stroke-width="0.9"/>
<text x="625.10" y="131.23" font-size="7.8" font-weight="bold" text-anchor="middle" fill="#222" stroke="#222" stroke-width="0.18" >20</text>
<text transform="translate(440.25,70.40) rotate(-90)" x="0" y="0" font-size="7.4" font-weight="bold" text-anchor="middle" textLength="47.00" lengthAdjust="spacingAndGlyphs" fill="#1a1a1a" stroke="#1a1a1a" stroke-width="0.18">Probability of</text>
<text transform="translate(449.45,70.75) rotate(-90)" x="0" y="0" font-size="7.4" font-weight="bold" text-anchor="middle" textLength="101.50" lengthAdjust="spacingAndGlyphs" fill="#1a1a1a" stroke="#1a1a1a" stroke-width="0.18">Progression-free Survival  (%)</text>
<line x1="560.00" y1="28.50" x2="571.90" y2="28.50" stroke="#4B8B47" stroke-width="1.2"/>
<line x1="565.95" y1="26.20" x2="565.95" y2="28.50" stroke="#4B8B47" stroke-width="1.0"/>
<text x="578.10" y="30.90" font-size="6.7" textLength="91.50" lengthAdjust="spacingAndGlyphs" >MET-specific ctDNA Clearance</text>
<line x1="560.00" y1="38.00" x2="571.90" y2="38.00" stroke="#2B7BB6" stroke-width="1.2"/>
<line x1="565.95" y1="35.70" x2="565.95" y2="38.00" stroke="#2B7BB6" stroke-width="1.0"/>
<text x="578.10" y="40.40" font-size="6.7" textLength="86.80" lengthAdjust="spacingAndGlyphs" >MET-specific ctDNA Negative</text>
<line x1="560.00" y1="47.80" x2="571.90" y2="47.80" stroke="#AE3B3D" stroke-width="1.2"/>
<line x1="565.95" y1="45.50" x2="565.95" y2="47.80" stroke="#AE3B3D" stroke-width="1.0"/>
<text x="578.10" y="50.20" font-size="6.7" textLength="86.80" lengthAdjust="spacingAndGlyphs" >MET-specific ctDNA Residual</text>
<text x="560.70" y="62.00" font-size="5.3" textLength="105.70" lengthAdjust="spacingAndGlyphs" >Neg VS. Cle: mPFS 6.8 VS. 9.3m; p=0.291</text>
<text x="560.70" y="68.10" font-size="5.3" textLength="106.30" lengthAdjust="spacingAndGlyphs" >Neg VS. Res: mPFS 6.8 VS. 2.2m; p&lt;0.001</text>
<text x="560.70" y="74.10" font-size="5.3" textLength="105.30" lengthAdjust="spacingAndGlyphs" >Cle VS. Res: mPFS 9.3 VS. 2.2m; p=0.005</text>
<text x="423.20" y="137.54" font-size="5.7" font-weight="bold" textLength="37.50" lengthAdjust="spacingAndGlyphs" stroke="#1a1a1a" stroke-width="0.18" >Patient at risk</text>
<text x="423.20" y="147.04" font-size="5.7" font-weight="bold" textLength="46.20" lengthAdjust="spacingAndGlyphs" stroke="#1a1a1a" stroke-width="0.18" >ctDNA Clearance</text>
<text x="477.30" y="146.96" font-size="5.6" font-weight="bold" text-anchor="middle" stroke="#1a1a1a" stroke-width="0.18" >4</text>
<text x="506.86" y="146.96" font-size="5.6" font-weight="bold" text-anchor="middle" stroke="#1a1a1a" stroke-width="0.18" >4</text>
<text x="536.42" y="146.96" font-size="5.6" font-weight="bold" text-anchor="middle" stroke="#1a1a1a" stroke-width="0.18" >3</text>
<text x="565.98" y="146.96" font-size="5.6" font-weight="bold" text-anchor="middle" stroke="#1a1a1a" stroke-width="0.18" >1</text>
<text x="595.54" y="146.96" font-size="5.6" font-weight="bold" text-anchor="middle" stroke="#1a1a1a" stroke-width="0.18" >1</text>
<text x="625.10" y="146.96" font-size="5.6" font-weight="bold" text-anchor="middle" stroke="#1a1a1a" stroke-width="0.18" >1</text>
<text x="423.20" y="158.24" font-size="5.7" font-weight="bold" textLength="43.00" lengthAdjust="spacingAndGlyphs" stroke="#1a1a1a" stroke-width="0.18" >ctDNA Negative</text>
<text x="477.30" y="158.16" font-size="5.6" font-weight="bold" text-anchor="middle" stroke="#1a1a1a" stroke-width="0.18" >10</text>
<text x="506.86" y="158.16" font-size="5.6" font-weight="bold" text-anchor="middle" stroke="#1a1a1a" stroke-width="0.18" >9</text>
<text x="536.42" y="158.16" font-size="5.6" font-weight="bold" text-anchor="middle" stroke="#1a1a1a" stroke-width="0.18" >4</text>
<text x="565.98" y="158.16" font-size="5.6" font-weight="bold" text-anchor="middle" stroke="#1a1a1a" stroke-width="0.18" >2</text>
<text x="595.54" y="158.16" font-size="5.6" font-weight="bold" text-anchor="middle" stroke="#1a1a1a" stroke-width="0.18" >2</text>
<text x="625.10" y="158.16" font-size="5.6" font-weight="bold" text-anchor="middle" stroke="#1a1a1a" stroke-width="0.18" >2</text>
<text x="423.20" y="169.24" font-size="5.7" font-weight="bold" textLength="44.20" lengthAdjust="spacingAndGlyphs" stroke="#1a1a1a" stroke-width="0.18" >ctDNA  Residual</text>
<text x="477.30" y="169.16" font-size="5.6" font-weight="bold" text-anchor="middle" stroke="#1a1a1a" stroke-width="0.18" >6</text>
<text x="506.86" y="169.16" font-size="5.6" font-weight="bold" text-anchor="middle" stroke="#1a1a1a" stroke-width="0.18" >0</text>
<text x="536.42" y="169.16" font-size="5.6" font-weight="bold" text-anchor="middle" stroke="#1a1a1a" stroke-width="0.18" >0</text>
<text x="565.98" y="169.16" font-size="5.6" font-weight="bold" text-anchor="middle" stroke="#1a1a1a" stroke-width="0.18" >0</text>
<text x="595.54" y="169.16" font-size="5.6" font-weight="bold" text-anchor="middle" stroke="#1a1a1a" stroke-width="0.18" >0</text>
<text x="625.10" y="169.16" font-size="5.6" font-weight="bold" text-anchor="middle" stroke="#1a1a1a" stroke-width="0.18" >0</text>
<text x="518.80" y="181.94" font-size="9.6" font-weight="bold" textLength="60.50" lengthAdjust="spacingAndGlyphs" stroke="#1a1a1a" stroke-width="0.18" >Time (months)</text>
<text x="421.70" y="29.60" font-size="16" fill="#161616" >C</text>
<line x1="474.70" y1="313.40" x2="546.70" y2="313.40" stroke="#9a9a9a" stroke-width="0.9" stroke-dasharray="2.8,2.8"/>
<line x1="495.50" y1="313.40" x2="495.50" y2="355.80" stroke="#9a9a9a" stroke-width="0.9" stroke-dasharray="2.8,2.8"/>
<line x1="526.50" y1="313.40" x2="526.50" y2="355.80" stroke="#9a9a9a" stroke-width="0.9" stroke-dasharray="2.8,2.8"/>
<line x1="546.80" y1="313.40" x2="546.80" y2="355.80" stroke="#9a9a9a" stroke-width="0.9" stroke-dasharray="2.8,2.8"/>
<path d="M479.40,271.40 H521.70 V292.38 H544.20 V313.35 H546.70 V334.32 H628.50" fill="none" stroke="#4B8B47" stroke-width="1.15" stroke-linejoin="miter"/>
<path d="M479.40,271.40 H485.10 V288.18 H494.80 V304.96 H495.10 V321.74 H500.50 V338.52 H505.60 V355.30 H505.60" fill="none" stroke="#AE3B3D" stroke-width="1.15" stroke-linejoin="miter"/>
<path d="M479.20,271.40 H492.30 V279.79 H508.30 V288.18 H520.80 V296.57 H521.20 V304.96 H521.70 V313.35 H532.40 V321.74 H537.60 V330.13 H539.30 V338.52 H622.60 V346.91 H628.50" fill="none" stroke="#2B7BB6" stroke-width="1.15" stroke-linejoin="miter"/>
<line x1="472.50" y1="263.00" x2="472.50" y2="359.90" stroke="#222" stroke-width="1.0"/>
<line x1="472.00" y1="359.40" x2="628.50" y2="359.40" stroke="#222" stroke-width="1.0"/>
<line x1="470.00" y1="355.30" x2="472.50" y2="355.30" stroke="#222" stroke-width="0.9"/>
<text x="469.20" y="357.96" font-size="7.6" font-weight="bold" text-anchor="end" fill="#222" stroke="#222" stroke-width="0.18" >0</text>
<line x1="470.00" y1="338.52" x2="472.50" y2="338.52" stroke="#222" stroke-width="0.9"/>
<text x="469.20" y="341.18" font-size="7.6" font-weight="bold" text-anchor="end" fill="#222" stroke="#222" stroke-width="0.18" >20</text>
<line x1="470.00" y1="321.74" x2="472.50" y2="321.74" stroke="#222" stroke-width="0.9"/>
<text x="469.20" y="324.40" font-size="7.6" font-weight="bold" text-anchor="end" fill="#222" stroke="#222" stroke-width="0.18" >40</text>
<line x1="470.00" y1="304.96" x2="472.50" y2="304.96" stroke="#222" stroke-width="0.9"/>
<text x="469.20" y="307.62" font-size="7.6" font-weight="bold" text-anchor="end" fill="#222" stroke="#222" stroke-width="0.18" >60</text>
<line x1="470.00" y1="288.18" x2="472.50" y2="288.18" stroke="#222" stroke-width="0.9"/>
<text x="469.20" y="290.84" font-size="7.6" font-weight="bold" text-anchor="end" fill="#222" stroke="#222" stroke-width="0.18" >80</text>
<line x1="470.00" y1="271.40" x2="472.50" y2="271.40" stroke="#222" stroke-width="0.9"/>
<text x="469.20" y="274.06" font-size="7.6" font-weight="bold" text-anchor="end" fill="#222" stroke="#222" stroke-width="0.18" >100</text>
<line x1="479.20" y1="359.40" x2="479.20" y2="361.60" stroke="#222" stroke-width="0.9"/>
<text x="479.20" y="369.16" font-size="7.6" font-weight="bold" text-anchor="middle" fill="#222" stroke="#222" stroke-width="0.18" >0</text>
<line x1="507.54" y1="359.40" x2="507.54" y2="361.60" stroke="#222" stroke-width="0.9"/>
<text x="507.54" y="369.16" font-size="7.6" font-weight="bold" text-anchor="middle" fill="#222" stroke="#222" stroke-width="0.18" >4</text>
<line x1="535.88" y1="359.40" x2="535.88" y2="361.60" stroke="#222" stroke-width="0.9"/>
<text x="535.88" y="369.16" font-size="7.6" font-weight="bold" text-anchor="middle" fill="#222" stroke="#222" stroke-width="0.18" >8</text>
<line x1="564.22" y1="359.40" x2="564.22" y2="361.60" stroke="#222" stroke-width="0.9"/>
<text x="564.22" y="369.16" font-size="7.6" font-weight="bold" text-anchor="middle" fill="#222" stroke="#222" stroke-width="0.18" >12</text>
<line x1="592.56" y1="359.40" x2="592.56" y2="361.60" stroke="#222" stroke-width="0.9"/>
<text x="592.56" y="369.16" font-size="7.6" font-weight="bold" text-anchor="middle" fill="#222" stroke="#222" stroke-width="0.18" >16</text>
<line x1="620.90" y1="359.40" x2="620.90" y2="361.60" stroke="#222" stroke-width="0.9"/>
<text x="620.90" y="369.16" font-size="7.6" font-weight="bold" text-anchor="middle" fill="#222" stroke="#222" stroke-width="0.18" >20</text>
<text transform="translate(442.98,311.00) rotate(-90)" x="0" y="0" font-size="7.2" font-weight="bold" text-anchor="middle" textLength="44.90" lengthAdjust="spacingAndGlyphs" fill="#1a1a1a" stroke="#1a1a1a" stroke-width="0.18">Probability of</text>
<text transform="translate(452.38,311.20) rotate(-90)" x="0" y="0" font-size="7.2" font-weight="bold" text-anchor="middle" textLength="97.30" lengthAdjust="spacingAndGlyphs" fill="#1a1a1a" stroke="#1a1a1a" stroke-width="0.18">Progression-free Survival  (%)</text>
<line x1="556.20" y1="270.60" x2="567.50" y2="270.60" stroke="#4B8B47" stroke-width="1.2"/>
<line x1="561.85" y1="268.30" x2="561.85" y2="270.60" stroke="#4B8B47" stroke-width="1.0"/>
<text x="571.20" y="273.00" font-size="6.7" textLength="111.10" lengthAdjust="spacingAndGlyphs" >Canonical Alterations ctDNA Clearance</text>
<line x1="556.20" y1="280.00" x2="567.50" y2="280.00" stroke="#2B7BB6" stroke-width="1.2"/>
<line x1="561.85" y1="277.70" x2="561.85" y2="280.00" stroke="#2B7BB6" stroke-width="1.0"/>
<text x="571.20" y="282.40" font-size="6.7" textLength="106.00" lengthAdjust="spacingAndGlyphs" >Canonical Alterations ctDNA Negative</text>
<line x1="556.20" y1="289.20" x2="567.50" y2="289.20" stroke="#AE3B3D" stroke-width="1.2"/>
<line x1="561.85" y1="286.90" x2="561.85" y2="289.20" stroke="#AE3B3D" stroke-width="1.0"/>
<text x="571.20" y="291.60" font-size="6.7" textLength="106.00" lengthAdjust="spacingAndGlyphs" >Canonical Alterations ctDNA Residual</text>
<text x="559.70" y="305.20" font-size="5.3" textLength="106.00" lengthAdjust="spacingAndGlyphs" >Neg VS. Cle: mPFS 6.8 VS. 9.3m; p=0.291</text>
<text x="559.70" y="310.90" font-size="5.3" textLength="106.90" lengthAdjust="spacingAndGlyphs" >Neg VS. Res: mPFS 6.8 VS. 2.2m; p=0.001</text>
<text x="559.70" y="316.50" font-size="5.3" textLength="105.50" lengthAdjust="spacingAndGlyphs" >Cle VS. Res: mPFS 9.3 VS. 2.2m; p=0.005</text>
<text x="427.20" y="374.90" font-size="5.6" font-weight="bold" textLength="35.70" lengthAdjust="spacingAndGlyphs" stroke="#1a1a1a" stroke-width="0.18" >Patient at risk</text>
<text x="427.20" y="383.70" font-size="5.6" font-weight="bold" textLength="44.30" lengthAdjust="spacingAndGlyphs" stroke="#1a1a1a" stroke-width="0.18" >ctDNA Clearance</text>
<text x="479.20" y="383.66" font-size="5.6" font-weight="bold" text-anchor="middle" stroke="#1a1a1a" stroke-width="0.18" >4</text>
<text x="507.54" y="383.66" font-size="5.6" font-weight="bold" text-anchor="middle" stroke="#1a1a1a" stroke-width="0.18" >4</text>
<text x="535.88" y="383.66" font-size="5.6" font-weight="bold" text-anchor="middle" stroke="#1a1a1a" stroke-width="0.18" >3</text>
<text x="564.22" y="383.66" font-size="5.6" font-weight="bold" text-anchor="middle" stroke="#1a1a1a" stroke-width="0.18" >1</text>
<text x="592.56" y="383.66" font-size="5.6" font-weight="bold" text-anchor="middle" stroke="#1a1a1a" stroke-width="0.18" >1</text>
<text x="620.90" y="383.66" font-size="5.6" font-weight="bold" text-anchor="middle" stroke="#1a1a1a" stroke-width="0.18" >1</text>
<text x="427.20" y="394.30" font-size="5.6" font-weight="bold" textLength="41.20" lengthAdjust="spacingAndGlyphs" stroke="#1a1a1a" stroke-width="0.18" >ctDNA Negative</text>
<text x="479.20" y="394.26" font-size="5.6" font-weight="bold" text-anchor="middle" stroke="#1a1a1a" stroke-width="0.18" >11</text>
<text x="507.54" y="394.26" font-size="5.6" font-weight="bold" text-anchor="middle" stroke="#1a1a1a" stroke-width="0.18" >9</text>
<text x="535.88" y="394.26" font-size="5.6" font-weight="bold" text-anchor="middle" stroke="#1a1a1a" stroke-width="0.18" >4</text>
<text x="564.22" y="394.26" font-size="5.6" font-weight="bold" text-anchor="middle" stroke="#1a1a1a" stroke-width="0.18" >2</text>
<text x="592.56" y="394.26" font-size="5.6" font-weight="bold" text-anchor="middle" stroke="#1a1a1a" stroke-width="0.18" >2</text>
<text x="620.90" y="394.26" font-size="5.6" font-weight="bold" text-anchor="middle" stroke="#1a1a1a" stroke-width="0.18" >2</text>
<text x="427.20" y="405.10" font-size="5.6" font-weight="bold" textLength="42.50" lengthAdjust="spacingAndGlyphs" stroke="#1a1a1a" stroke-width="0.18" >ctDNA  Residual</text>
<text x="479.20" y="405.06" font-size="5.6" font-weight="bold" text-anchor="middle" stroke="#1a1a1a" stroke-width="0.18" >5</text>
<text x="507.54" y="405.06" font-size="5.6" font-weight="bold" text-anchor="middle" stroke="#1a1a1a" stroke-width="0.18" >0</text>
<text x="535.88" y="405.06" font-size="5.6" font-weight="bold" text-anchor="middle" stroke="#1a1a1a" stroke-width="0.18" >0</text>
<text x="564.22" y="405.06" font-size="5.6" font-weight="bold" text-anchor="middle" stroke="#1a1a1a" stroke-width="0.18" >0</text>
<text x="592.56" y="405.06" font-size="5.6" font-weight="bold" text-anchor="middle" stroke="#1a1a1a" stroke-width="0.18" >0</text>
<text x="620.90" y="405.06" font-size="5.6" font-weight="bold" text-anchor="middle" stroke="#1a1a1a" stroke-width="0.18" >0</text>
<text x="519.10" y="416.74" font-size="9.6" font-weight="bold" textLength="58.00" lengthAdjust="spacingAndGlyphs" stroke="#1a1a1a" stroke-width="0.18" >Time (months)</text>
<text x="424.00" y="272.50" font-size="16" fill="#161616" >F</text>
<line x1="481.40" y1="545.10" x2="541.80" y2="545.10" stroke="#9a9a9a" stroke-width="0.9" stroke-dasharray="2.8,2.8"/>
<line x1="526.20" y1="545.10" x2="526.20" y2="589.40" stroke="#9a9a9a" stroke-width="0.9" stroke-dasharray="2.8,2.8"/>
<line x1="533.40" y1="545.10" x2="533.40" y2="589.40" stroke="#9a9a9a" stroke-width="0.9" stroke-dasharray="2.8,2.8"/>
<line x1="543.80" y1="545.10" x2="543.80" y2="589.40" stroke="#9a9a9a" stroke-width="0.9" stroke-dasharray="2.8,2.8"/>
<path d="M483.80,499.70 H497.40 V517.54 H512.70 V535.38 H543.80 V553.22 H550.50 V571.06 H625.70 V588.90 H625.70" fill="none" stroke="#4B8B47" stroke-width="1.15" stroke-linejoin="miter"/>
<path d="M483.80,499.70 H489.40 V506.57 H500.60 V513.44 H500.90 V520.31 H507.30 V527.17 H512.70 V536.27 H530.10 V558.84 H542.30 V566.42 H555.80 V573.91 H631.40" fill="none" stroke="#AE3B3D" stroke-width="1.15" stroke-linejoin="miter"/>
<path d="M483.80,499.70 H526.50 V544.30 H541.80 V588.90 H541.80" fill="none" stroke="#2B7BB6" stroke-width="1.15" stroke-linejoin="miter"/>
<line x1="477.00" y1="490.80" x2="477.00" y2="594.10" stroke="#222" stroke-width="1.0"/>
<line x1="476.50" y1="593.60" x2="631.50" y2="593.60" stroke="#222" stroke-width="1.0"/>
<line x1="474.50" y1="588.90" x2="477.00" y2="588.90" stroke="#222" stroke-width="0.9"/>
<text x="475.00" y="591.63" font-size="7.8" font-weight="bold" text-anchor="end" fill="#222" stroke="#222" stroke-width="0.18" >0</text>
<line x1="474.50" y1="571.06" x2="477.00" y2="571.06" stroke="#222" stroke-width="0.9"/>
<text x="475.00" y="573.79" font-size="7.8" font-weight="bold" text-anchor="end" fill="#222" stroke="#222" stroke-width="0.18" >20</text>
<line x1="474.50" y1="553.22" x2="477.00" y2="553.22" stroke="#222" stroke-width="0.9"/>
<text x="475.00" y="555.95" font-size="7.8" font-weight="bold" text-anchor="end" fill="#222" stroke="#222" stroke-width="0.18" >40</text>
<line x1="474.50" y1="535.38" x2="477.00" y2="535.38" stroke="#222" stroke-width="0.9"/>
<text x="475.00" y="538.11" font-size="7.8" font-weight="bold" text-anchor="end" fill="#222" stroke="#222" stroke-width="0.18" >60</text>
<line x1="474.50" y1="517.54" x2="477.00" y2="517.54" stroke="#222" stroke-width="0.9"/>
<text x="475.00" y="520.27" font-size="7.8" font-weight="bold" text-anchor="end" fill="#222" stroke="#222" stroke-width="0.18" >80</text>
<line x1="474.50" y1="499.70" x2="477.00" y2="499.70" stroke="#222" stroke-width="0.9"/>
<text x="475.00" y="502.43" font-size="7.8" font-weight="bold" text-anchor="end" fill="#222" stroke="#222" stroke-width="0.18" >100</text>
<line x1="484.00" y1="593.60" x2="484.00" y2="595.80" stroke="#222" stroke-width="0.9"/>
<text x="484.00" y="604.43" font-size="7.8" font-weight="bold" text-anchor="middle" fill="#222" stroke="#222" stroke-width="0.18" >0</text>
<line x1="512.08" y1="593.60" x2="512.08" y2="595.80" stroke="#222" stroke-width="0.9"/>
<text x="512.08" y="604.43" font-size="7.8" font-weight="bold" text-anchor="middle" fill="#222" stroke="#222" stroke-width="0.18" >4</text>
<line x1="540.16" y1="593.60" x2="540.16" y2="595.80" stroke="#222" stroke-width="0.9"/>
<text x="540.16" y="604.43" font-size="7.8" font-weight="bold" text-anchor="middle" fill="#222" stroke="#222" stroke-width="0.18" >8</text>
<line x1="568.24" y1="593.60" x2="568.24" y2="595.80" stroke="#222" stroke-width="0.9"/>
<text x="568.24" y="604.43" font-size="7.8" font-weight="bold" text-anchor="middle" fill="#222" stroke="#222" stroke-width="0.18" >12</text>
<line x1="596.32" y1="593.60" x2="596.32" y2="595.80" stroke="#222" stroke-width="0.9"/>
<text x="596.32" y="604.43" font-size="7.8" font-weight="bold" text-anchor="middle" fill="#222" stroke="#222" stroke-width="0.18" >16</text>
<line x1="624.40" y1="593.60" x2="624.40" y2="595.80" stroke="#222" stroke-width="0.9"/>
<text x="624.40" y="604.43" font-size="7.8" font-weight="bold" text-anchor="middle" fill="#222" stroke="#222" stroke-width="0.18" >20</text>
<text transform="translate(448.15,542.00) rotate(-90)" x="0" y="0" font-size="7.4" font-weight="bold" text-anchor="middle" textLength="47.30" lengthAdjust="spacingAndGlyphs" fill="#1a1a1a" stroke="#1a1a1a" stroke-width="0.18">Probability of</text>
<text transform="translate(456.95,542.50) rotate(-90)" x="0" y="0" font-size="7.4" font-weight="bold" text-anchor="middle" textLength="102.90" lengthAdjust="spacingAndGlyphs" fill="#1a1a1a" stroke="#1a1a1a" stroke-width="0.18">Progression-free Survival  (%)</text>
<line x1="565.00" y1="498.90" x2="576.40" y2="498.90" stroke="#4B8B47" stroke-width="1.2"/>
<line x1="570.70" y1="496.60" x2="570.70" y2="498.90" stroke="#4B8B47" stroke-width="1.0"/>
<text x="581.90" y="501.30" font-size="6.7" textLength="91.90" lengthAdjust="spacingAndGlyphs" >Pan-alterations ctDNA Clearance</text>
<line x1="565.00" y1="509.10" x2="576.40" y2="509.10" stroke="#2B7BB6" stroke-width="1.2"/>
<line x1="570.70" y1="506.80" x2="570.70" y2="509.10" stroke="#2B7BB6" stroke-width="1.0"/>
<text x="581.90" y="511.50" font-size="6.7" textLength="87.20" lengthAdjust="spacingAndGlyphs" >Pan-alterations ctDNA Negative</text>
<line x1="565.00" y1="518.20" x2="576.40" y2="518.20" stroke="#AE3B3D" stroke-width="1.2"/>
<line x1="570.70" y1="515.90" x2="570.70" y2="518.20" stroke="#AE3B3D" stroke-width="1.0"/>
<text x="581.90" y="520.60" font-size="6.7" textLength="86.80" lengthAdjust="spacingAndGlyphs" >Pan-alterations ctDNA Residua</text>
<text x="566.00" y="534.90" font-size="5.3" textLength="107.00" lengthAdjust="spacingAndGlyphs" >Neg VS. Cle: mPFS 7.1 VS. 8.5m; p=0.429</text>
<text x="566.00" y="541.00" font-size="5.3" textLength="107.00" lengthAdjust="spacingAndGlyphs" >Neg VS. Res: mPFS 7.1 VS. 5.9m; p=0.780</text>
<text x="566.00" y="546.50" font-size="5.3" textLength="105.50" lengthAdjust="spacingAndGlyphs" >Cle VS. Res: mPFS 8.5 VS. 5.9m; p=0.862</text>
<text x="432.70" y="609.84" font-size="5.7" font-weight="bold" textLength="35.30" lengthAdjust="spacingAndGlyphs" stroke="#1a1a1a" stroke-width="0.18" >Patient at risk</text>
<text x="432.70" y="619.44" font-size="5.7" font-weight="bold" textLength="44.10" lengthAdjust="spacingAndGlyphs" stroke="#1a1a1a" stroke-width="0.18" >ctDNA Clearance</text>
<text x="484.00" y="619.36" font-size="5.6" font-weight="bold" text-anchor="middle" stroke="#1a1a1a" stroke-width="0.18" >5</text>
<text x="512.08" y="619.36" font-size="5.6" font-weight="bold" text-anchor="middle" stroke="#1a1a1a" stroke-width="0.18" >4</text>
<text x="540.16" y="619.36" font-size="5.6" font-weight="bold" text-anchor="middle" stroke="#1a1a1a" stroke-width="0.18" >3</text>
<text x="568.24" y="619.36" font-size="5.6" font-weight="bold" text-anchor="middle" stroke="#1a1a1a" stroke-width="0.18" >1</text>
<text x="596.32" y="619.36" font-size="5.6" font-weight="bold" text-anchor="middle" stroke="#1a1a1a" stroke-width="0.18" >1</text>
<text x="624.40" y="619.36" font-size="5.6" font-weight="bold" text-anchor="middle" stroke="#1a1a1a" stroke-width="0.18" >1</text>
<text x="432.70" y="630.74" font-size="5.7" font-weight="bold" textLength="40.80" lengthAdjust="spacingAndGlyphs" stroke="#1a1a1a" stroke-width="0.18" >ctDNA Negative</text>
<text x="484.00" y="630.66" font-size="5.6" font-weight="bold" text-anchor="middle" stroke="#1a1a1a" stroke-width="0.18" >2</text>
<text x="512.08" y="630.66" font-size="5.6" font-weight="bold" text-anchor="middle" stroke="#1a1a1a" stroke-width="0.18" >2</text>
<text x="540.16" y="630.66" font-size="5.6" font-weight="bold" text-anchor="middle" stroke="#1a1a1a" stroke-width="0.18" >1</text>
<text x="568.24" y="630.66" font-size="5.6" font-weight="bold" text-anchor="middle" stroke="#1a1a1a" stroke-width="0.18" >0</text>
<text x="596.32" y="630.66" font-size="5.6" font-weight="bold" text-anchor="middle" stroke="#1a1a1a" stroke-width="0.18" >0</text>
<text x="624.40" y="630.66" font-size="5.6" font-weight="bold" text-anchor="middle" stroke="#1a1a1a" stroke-width="0.18" >0</text>
<text x="432.70" y="641.94" font-size="5.7" font-weight="bold" textLength="42.10" lengthAdjust="spacingAndGlyphs" stroke="#1a1a1a" stroke-width="0.18" >ctDNA  Residual</text>
<text x="484.00" y="641.86" font-size="5.6" font-weight="bold" text-anchor="middle" stroke="#1a1a1a" stroke-width="0.18" >13</text>
<text x="512.08" y="641.86" font-size="5.6" font-weight="bold" text-anchor="middle" stroke="#1a1a1a" stroke-width="0.18" >7</text>
<text x="540.16" y="641.86" font-size="5.6" font-weight="bold" text-anchor="middle" stroke="#1a1a1a" stroke-width="0.18" >3</text>
<text x="568.24" y="641.86" font-size="5.6" font-weight="bold" text-anchor="middle" stroke="#1a1a1a" stroke-width="0.18" >2</text>
<text x="596.32" y="641.86" font-size="5.6" font-weight="bold" text-anchor="middle" stroke="#1a1a1a" stroke-width="0.18" >2</text>
<text x="624.40" y="641.86" font-size="5.6" font-weight="bold" text-anchor="middle" stroke="#1a1a1a" stroke-width="0.18" >2</text>
<text x="523.20" y="654.74" font-size="9.6" font-weight="bold" textLength="57.50" lengthAdjust="spacingAndGlyphs" stroke="#1a1a1a" stroke-width="0.18" >Time (months)</text>
<text x="429.80" y="506.50" font-size="16" fill="#161616" >I</text>
</svg>
</body></html>
